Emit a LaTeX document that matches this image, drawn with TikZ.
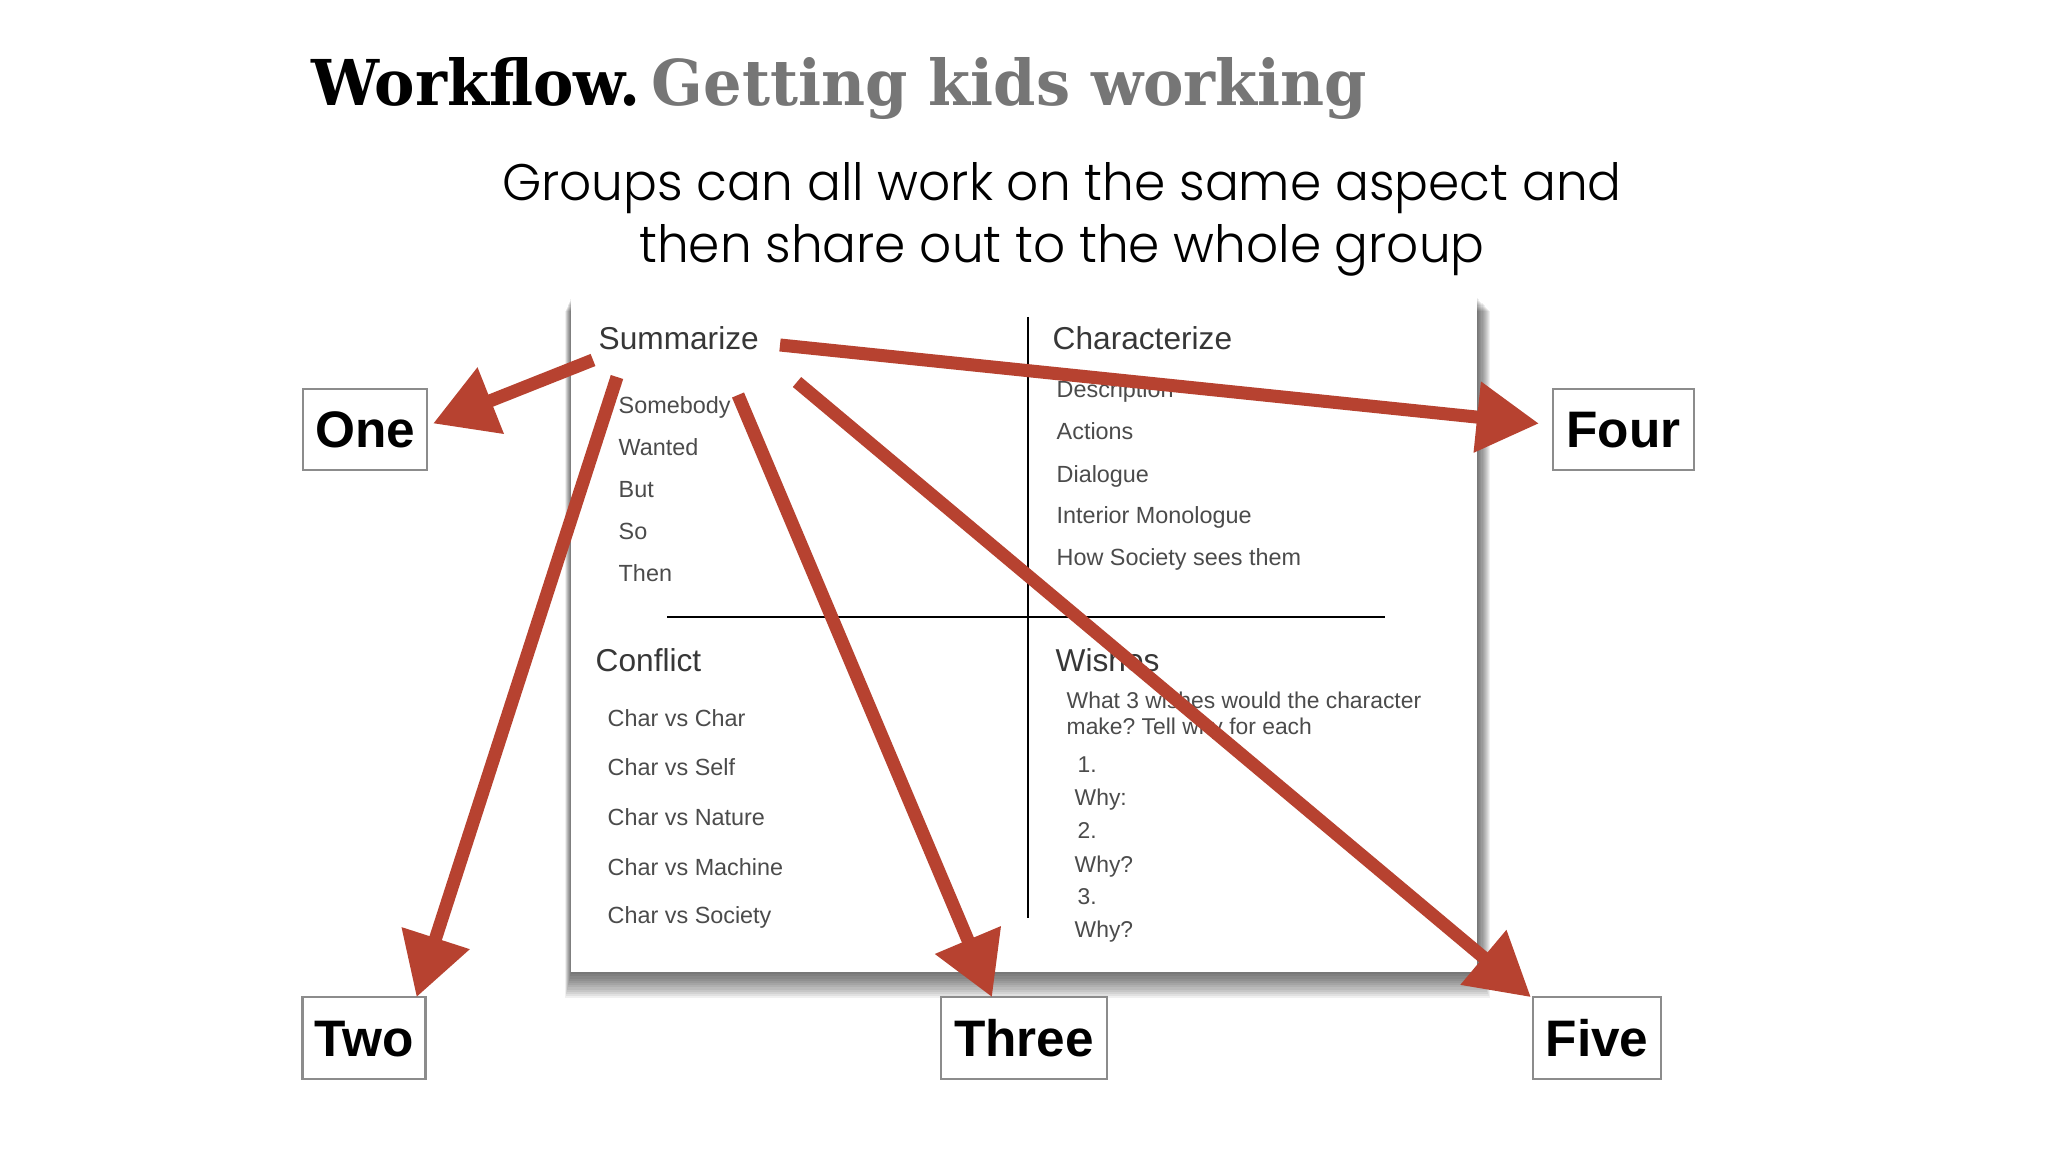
\documentclass[tikz,border=0pt]{standalone}
\usepackage{fontspec}
\setmainfont{Liberation Sans}
\newfontfamily\titlefont{DejaVu Serif}
\newfontfamily\subfont{Poppins Light}
\usetikzlibrary{arrows.meta,calc}
\definecolor{arrowred}{RGB}{183,66,48}
\definecolor{titlegray}{RGB}{118,118,118}
\definecolor{cardtext}{RGB}{55,55,55}
\definecolor{itemtext}{RGB}{75,75,75}
\definecolor{boxgray}{RGB}{140,140,140}
\frenchspacing
\begin{document}
\begin{tikzpicture}[x=0.01cm,y=-0.01cm,
  cardhead/.style={font=\fontsize{9}{10}\selectfont, text=cardtext, anchor=base west, inner sep=0pt},
  carditem/.style={font=\fontsize{6.65}{8}\selectfont, text=itemtext, anchor=base west, inner sep=0pt},
  wishitem/.style={font=\fontsize{6.5}{8}\selectfont, text=itemtext, anchor=base west, inner sep=0pt},
  numbox/.style={draw=boxgray, line width=0.6pt, fill=white, inner sep=0pt, text height=10.5pt, text depth=0pt, minimum height=0.815cm, font=\fontsize{14.6}{16}\selectfont\bfseries},
  cardline/.style={black, line width=0.55pt},
  shadowlayer/.style={fill=black, opacity=0.06},
  arrowline/.style={arrowred, line width=3.7pt, -{Triangle[length=0.62cm,width=0.68cm]}}
]
\useasboundingbox[fill=white] (0,0) rectangle (2048,1152);

% title
\node[anchor=base west, inner sep=0pt] (title) at (311,106)
  {\resizebox{10.55cm}{0.48cm}{\titlefont\bfseries Workflow.\hspace{0.18em}\textcolor{titlegray}{Getting kids working}}};
\node[anchor=base, inner sep=0pt] (sub1) at (1062,201)
  {\resizebox{11.19cm}{0.38cm}{\subfont Groups can all work on the same aspect and}};
\node[anchor=base, inner sep=0pt] (sub2) at (1062,263)
  {\resizebox{8.45cm}{0.38cm}{\subfont then share out to the whole group}};

% card shadow
\foreach \i in {1,...,12} {
  \fill[shadowlayer] (571-0.5*\i,297+1.2*\i) rectangle (1477+1.1*\i,972+2.2*\i);
}
% card
\node[fill=white, inner sep=0pt, minimum width=9.06cm, minimum height=6.75cm] (card) at (1024,634.5) {};
\draw[cardline] (1028,317) -- (1028,918);
\draw[cardline] (667,617) -- (1385,617);

\node[cardhead] (summ) at (598,350) {Summarize};
\node[carditem] (i1) at (618,414) {Somebody};
\node[carditem] (i2) at (618,456) {Wanted};
\node[carditem] (i3) at (618,498) {But};
\node[carditem] (i4) at (618,540) {So};
\node[carditem] (i5) at (618,582) {Then};

\node[cardhead] (charz) at (1052,350) {Characterize};
\node[carditem] (c1) at (1056,398) {Description};
\node[carditem] (c2) at (1056,440) {Actions};
\node[carditem] (c3) at (1056,482) {Dialogue};
\node[carditem] (c4) at (1056,524) {Interior Monologue};
\node[carditem] (c5) at (1056,565) {How Society sees them};

\node[cardhead] (confl) at (595,671) {Conflict};
\node[carditem] (f1) at (607,726) {Char vs Char};
\node[carditem] (f2) at (607,775) {Char vs Self};
\node[carditem] (f3) at (607,825) {Char vs Nature};
\node[carditem] (f4) at (607,875) {Char vs Machine};
\node[carditem] (f5) at (607,923) {Char vs Society};

\node[cardhead] (wish) at (1055,671) {Wishes};
\node[wishitem] (w1) at (1066,708) {What 3 wishes would the character};
\node[wishitem] (w2) at (1066,735) {make? Tell why for each};
\node[wishitem] (w3) at (1077,772) {1.};
\node[wishitem] (w4) at (1074,805) {Why:};
\node[wishitem] (w5) at (1077,838) {2.};
\node[wishitem] (w6) at (1074,872) {Why?};
\node[wishitem] (w7) at (1077,904) {3.};
\node[wishitem] (w8) at (1074,937) {Why?};

% numbered boxes
\node[numbox, minimum width=1.24cm] (one) at (365,429.5) {One};
\node[numbox, minimum width=1.41cm] (four) at (1623.5,429.5) {Four};
\node[numbox, minimum width=1.23cm] (two) at (364,1038) {Two};
\node[numbox, minimum width=1.66cm] (three) at (1024,1038) {Three};
\node[numbox, minimum width=1.28cm] (five) at (1597,1038) {Five};

% arrow starts
\coordinate (s1) at (593,360);
\coordinate (s2) at (617,377);
\coordinate (s3) at (738,395);
\coordinate (s4) at (780,345);
\coordinate (s5) at (797,382);

\draw[arrowline] (s1) -- ($(one.east)+(5,-6)$);
\draw[arrowline] (s2) -- ($(two.north east)+(-10,1)$);
\draw[arrowline] (s3) -- ($(three.north)+(-32,1)$);
\draw[arrowline] (s4) -- ($(four.west)+(-13,-6)$);
\draw[arrowline] (s5) -- ($(five.north west)+(-1,1)$);
\end{tikzpicture}
\end{document}
